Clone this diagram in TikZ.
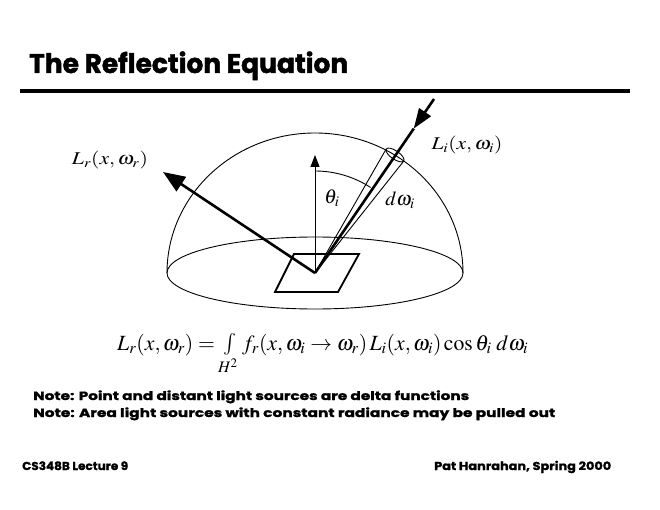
\documentclass[tikz,border=0pt]{standalone}
\usepackage[no-math]{fontspec}
\usepackage{mathptmx}
\usepackage{graphicx}
\usetikzlibrary{arrows.meta,calc}
\newfontfamily\fut[FakeBold=1.6]{Poppins Bold}
\newfontfamily\futs[FakeBold=1.2]{Poppins Bold}
\begin{document}
\begin{tikzpicture}[x=1pt,y=-1pt,
  thinline/.style={line width=0.9pt},
  thickline/.style={line width=2.6pt},
  lbl/.style={inner sep=0pt},
  mathlbl/.style={inner sep=0pt,font=\fontsize{18}{20}\selectfont},
  note/.style={inner sep=0pt,anchor=base west,font=\futs\fontsize{12}{14}\selectfont},
  foot/.style={inner sep=0pt,anchor=base west,font=\futs\fontsize{11.5}{13}\selectfont}]
\useasboundingbox[fill=white] (0,0) rectangle (660,510);
% title
\node[lbl,anchor=base west,font=\fut\fontsize{27}{30}\selectfont] (title) at (29,73)
  {\resizebox{319pt}{\height}{The Reflection Equation}};
\coordinate (ruleL) at (20,91);
\coordinate (ruleR) at (630,91);
\draw[line width=3.6pt] (ruleL) -- (ruleR);
% hemisphere
\coordinate (P) at (315,273);
\coordinate (domeL) at (167,273);
\draw[thinline] (domeL) arc[start angle=180,end angle=360,x radius=148,y radius=140];
\draw[thinline] (P) ellipse[x radius=148,y radius=36];
% surface patch
\coordinate (q1) at (294,254);
\coordinate (q2) at (359,254);
\coordinate (q3) at (338,292);
\coordinate (q4) at (275,292);
\draw[line width=1.8pt] (q1) -- (q2) -- (q3) -- (q4) -- cycle;
% normal
\coordinate (N) at (315,155);
\draw[thinline,-{Triangle[length=12pt,width=9pt]}] (P) -- (N);
% theta arc
\coordinate (A0) at (315,171);
\draw[thinline] (A0) arc[start angle=-90,end angle=-57,radius=102];
% reflected ray
\coordinate (R) at (163,172);
\draw[thickline,-{Triangle[length=22pt,width=17pt]}] (P) -- (R);
% cone
\coordinate (C) at (395,155);
\coordinate (E1) at (386.2,149.0);
\coordinate (E2) at (403.8,161.0);
\draw[thinline] (P) -- (E1);
\draw[thinline] (P) -- (E2);
\draw[thinline,rotate around={-34.3:(C)}] (C) ellipse[x radius=10.6,y radius=4.2];
% incoming ray
\coordinate (S) at (434,99);
\coordinate (T) at ($(S)!0.17!(P)$);
\draw[thickline,-{Triangle[length=20pt,width=14pt]}] (S) -- (T);
\draw[thickline] (T) -- (P);
% labels
\node[mathlbl] (Lr) at (110,160) {\resizebox{76pt}{\height}{$L_r(x,\omega_r)$}};
\node[mathlbl] (Li) at (467,145) {\resizebox{71pt}{\height}{$L_i(x,\omega_i)$}};
\node[mathlbl,font=\fontsize{20}{22}\selectfont] (th) at (332,198) {$\theta_i$};
\node[mathlbl,font=\fontsize{20}{22}\selectfont] (dw) at (400,200) {$d\omega_i$};
% equation
\node[lbl,anchor=base west,font=\fontsize{21}{24}\selectfont] (eq) at (117,350)
  {\resizebox{411pt}{!}{$L_r(x,\omega_r)=\int\limits_{H^2} f_r(x,\omega_i\to\omega_r)\,L_i(x,\omega_i)\cos\theta_i\;d\omega_i$}};
% notes
\node[note] (n1) at (33,400) {\resizebox{436pt}{\height}{Note: Point and distant light sources are delta functions}};
\node[note] (n2) at (33,417) {\resizebox{522pt}{\height}{Note: Area light sources with constant radiance may be pulled out}};
% footer
\node[foot] (f1) at (22,470) {\resizebox{106pt}{\height}{CS348B Lecture 9}};
\node[foot] (f2) at (434,470) {\resizebox{177pt}{\height}{Pat Hanrahan, Spring 2000}};
\end{tikzpicture}
\end{document}
